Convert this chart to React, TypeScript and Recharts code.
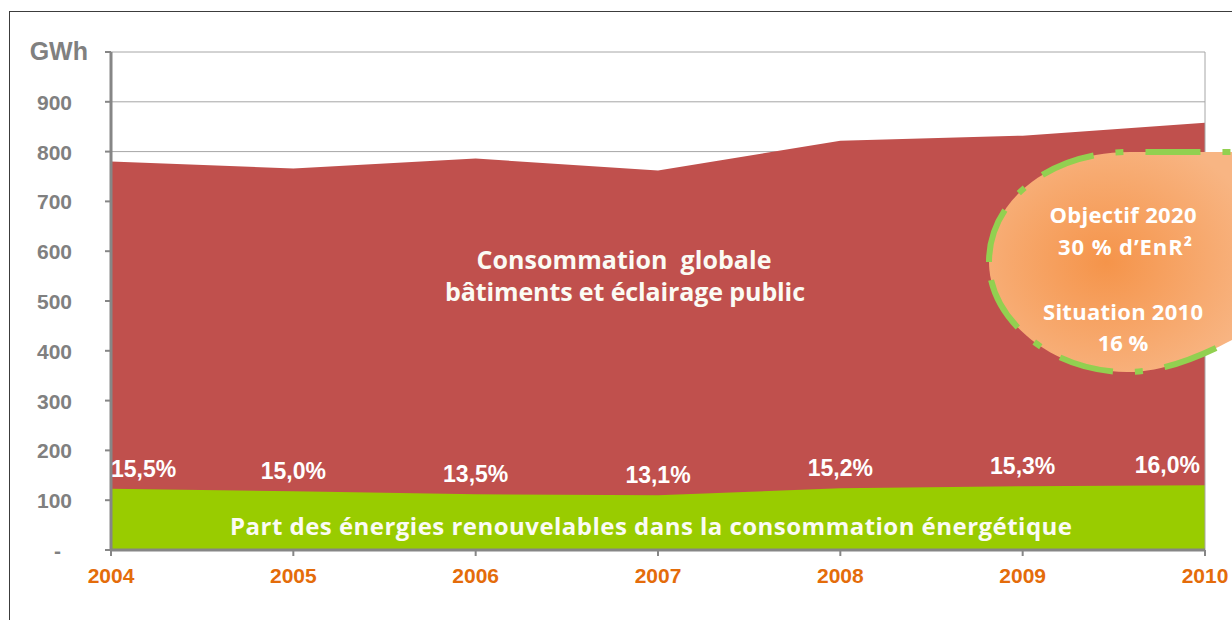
import React from 'react';
import { AreaChart, Area, XAxis, YAxis, CartesianGrid, LabelList, ReferenceLine } from 'recharts';

const years = [2004, 2005, 2006, 2007, 2008, 2009, 2010];
const totalConsumption = [780, 766, 786, 762, 822, 832, 858];
const renewableConsumption = [123, 118, 112, 110, 124, 128, 130];
const renewableShare = ['15,5%', '15,0%', '13,5%', '13,1%', '15,2%', '15,3%', '16,0%'];
const yTicks = [0, 100, 200, 300, 400, 500, 600, 700, 800, 900, 1000];

const data = years.map((year, i) => ({
  year,
  total: totalConsumption[i],
  renewable: renewableConsumption[i],
  share: renewableShare[i],
}));

const ARIAL = 'Liberation Sans, Arial, sans-serif';
const SANS = 'Open Sans, sans-serif';

const YTick = (props: any) => {
  const { x, y, payload } = props;
  const v = payload.value;
  if (v === 1000) {
    return (
      <text x={x - 15} y={y + 8} textAnchor="end" fill="#808080" fontFamily={ARIAL} fontWeight="bold" fontSize={25}>
        GWh
      </text>
    );
  }
  if (v === 0) {
    return (
      <text x={x - 42} y={y + 8} textAnchor="end" fill="#808080" fontFamily={ARIAL} fontWeight="bold" fontSize={21}>
        -
      </text>
    );
  }
  return (
    <text x={x - 31} y={y + 8} textAnchor="end" fill="#808080" fontFamily={ARIAL} fontWeight="bold" fontSize={21}>
      {v}
    </text>
  );
};

const XTick = (props: any) => {
  const { x, y, payload } = props;
  return (
    <text x={x} y={y + 25} textAnchor="middle" fill="#E46C0A" fontFamily={ARIAL} fontWeight="bold" fontSize={21}>
      {payload.value}
    </text>
  );
};

const ShareLabel = (props: any) => {
  const { x, y, value, index } = props;
  const first = index === 0;
  const last = index === years.length - 1;
  const anchor = first ? 'start' : last ? 'end' : 'middle';
  const tx = last ? x - 5 : x;
  return (
    <text x={tx} y={y - 12} textAnchor={anchor} fill="#FFFFFF" fontFamily={ARIAL} fontWeight="bold" fontSize={23}>
      {value}
    </text>
  );
};

const Overlay = () => (
  <svg width={1232} height={620} style={{ position: 'absolute', left: 0, top: 0, pointerEvents: 'none' }}>
    <defs>
      <radialGradient id="bubble" cx="0.45" cy="0.5" r="0.6">
        <stop offset="0%" stopColor="#F5944A" />
        <stop offset="100%" stopColor="#F8B583" />
      </radialGradient>
    </defs>
    <g fontFamily={SANS} fontWeight="bold" fill="#FBFBF4" textAnchor="middle">
      <text x={624} y={269} fontSize={25} textLength={295} style={{ whiteSpace: 'pre' }}>
        Consommation  globale
      </text>
      <text x={625} y={301} fontSize={25} textLength={360}>
        bâtiments et éclairage public
      </text>
      <text x={651} y={535} fontSize={24} textLength={842}>
        Part des énergies renouvelables dans la consommation énergétique
      </text>
    </g>
    <path
      d="M 989 262 C 989 200 1050 152 1130 152 L 1250 152 L 1250 330 C 1215 350 1170 372 1127 372 C 1050 372 989 318 989 262 Z"
      fill="url(#bubble)"
      stroke="#92D050"
      strokeWidth={6}
      strokeDasharray="55 22 8 22"
    />
    <g fontFamily={SANS} fontWeight="bold" fill="#FFFFFF" textAnchor="middle" fontSize={22}>
      <text x={1123} y={223} textLength={147}>Objectif 2020</text>
      <text x={1125} y={255} textLength={134}>30 % d’EnR²</text>
      <text x={1123} y={320} textLength={160}>Situation 2010</text>
      <text x={1123} y={351}>16 %</text>
    </g>
  </svg>
);

export default function App() {
  return (
    <div style={{ position: 'fixed', left: 0, top: 0, width: 1232, height: 620, background: '#FFFFFF', overflow: 'hidden' }}>
      <div
        style={{
          position: 'absolute',
          left: 9,
          top: 11,
          width: 1300,
          height: 700,
          borderLeft: '1px solid #3C3C3C',
          borderTop: '1px solid #3C3C3C',
        }}
      />
      <div style={{ position: 'absolute', left: 0, top: 0 }}>
        <AreaChart width={1232} height={620} data={data} margin={{ top: 52, right: 27, left: 11, bottom: 0 }}>
          <CartesianGrid horizontal vertical={false} stroke="#A6A6A6" strokeWidth={1} />
          <XAxis
            dataKey="year"
            type="number"
            domain={[2004, 2010]}
            ticks={years}
            height={70}
            axisLine={{ stroke: '#868686', strokeWidth: 3 }}
            tickLine={{ stroke: '#868686', strokeWidth: 2 }}
            tickSize={6}
            tick={<XTick />}
            interval={0}
          />
          <YAxis
            domain={[0, 1000]}
            ticks={yTicks}
            width={100}
            axisLine={{ stroke: '#868686', strokeWidth: 3 }}
            tickLine={{ stroke: '#868686', strokeWidth: 2 }}
            tickSize={6}
            tick={<YTick />}
            interval={0}
          />
          <ReferenceLine x={2010} stroke="#A6A6A6" strokeWidth={1} />
          <Area
            type="linear"
            dataKey="total"
            stroke="none"
            fill="#C0504D"
            fillOpacity={1}
            isAnimationActive={false}
          />
          <Area
            type="linear"
            dataKey="renewable"
            stroke="none"
            fill="#99CC00"
            fillOpacity={1}
            isAnimationActive={false}
          >
            <LabelList dataKey="share" content={<ShareLabel />} />
          </Area>
        </AreaChart>
      </div>
      <Overlay />
    </div>
  );
}
